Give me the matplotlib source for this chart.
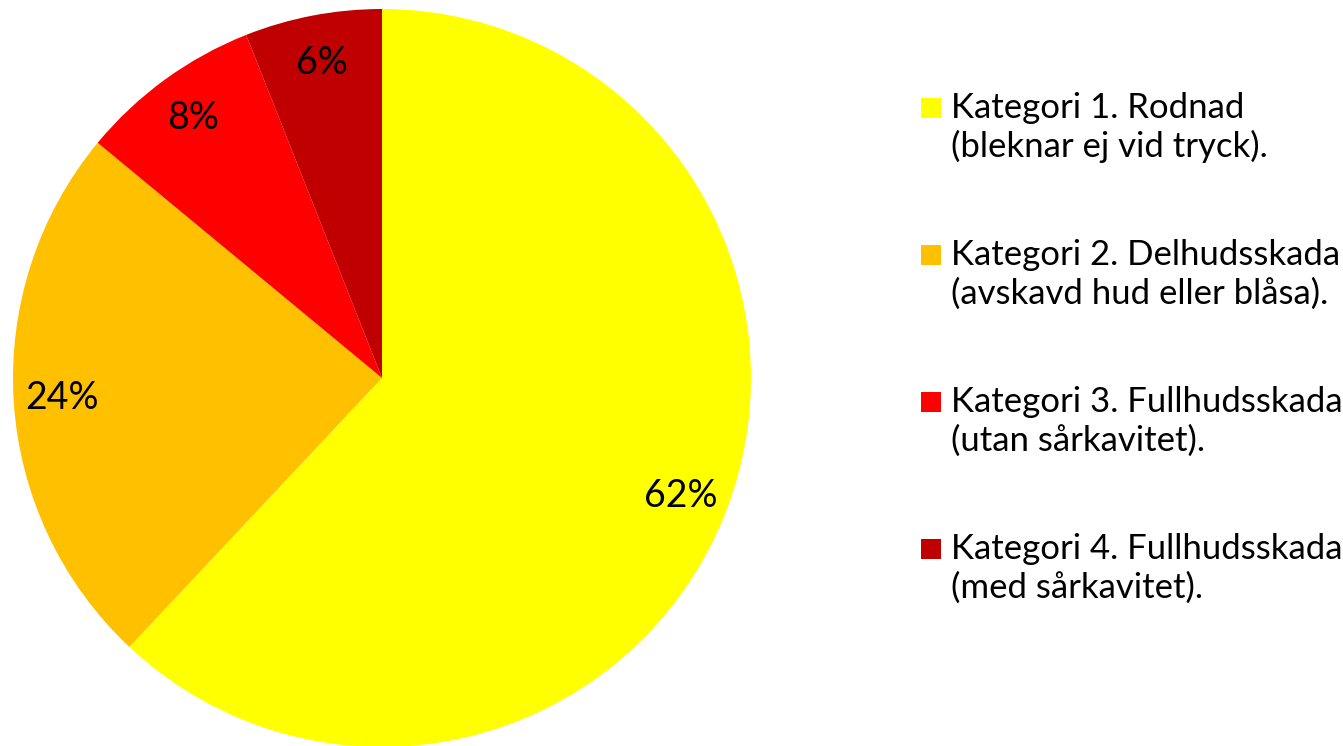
import matplotlib
matplotlib.use("Agg")
import matplotlib.pyplot as plt
from matplotlib.patches import Rectangle

categories = [
    "Kategori 1. Rodnad\n(bleknar ej vid tryck).",
    "Kategori 2. Delhudsskada\n(avskavd hud eller blåsa).",
    "Kategori 3. Fullhudsskada\n(utan sårkavitet).",
    "Kategori 4. Fullhudsskada\n(med sårkavitet).",
]
values = [62, 24, 8, 6]
colors = ["#FFFF00", "#FFC000", "#FF0000", "#C00000"]

W, H = 1343, 746
fig = plt.figure(figsize=(W / 100, H / 100), dpi=100)
cx, cy, r = 382, 378, 369
ax = fig.add_axes([(cx - r) / W, (H - cy - r) / H, 2 * r / W, 2 * r / H])
wedges, texts, autotexts = ax.pie(
    values, colors=colors, startangle=90, counterclock=False,
    autopct="%1.0f%%", pctdistance=0.87,
    textprops=dict(fontsize=27, family="Lato", color="black"),
)
ax.set_xlim(-1, 1)
ax.set_ylim(-1, 1)
ax.set_aspect("equal")
ax.axis("off")

# manual legend
sq = 20
x_sq = 921
base_first = 118
line_gap = 39
step = 147
for i, (lab, col) in enumerate(zip(categories, colors)):
    yb = base_first + i * step
    fig.patches.append(Rectangle((x_sq / W, (H - yb) / H), sq / W, sq / H,
                                 transform=fig.transFigure, facecolor=col, edgecolor="none"))
    for j, line in enumerate(lab.split("\n")):
        fig.text(951 / W, (H - yb - j * line_gap) / H, line, ha="left", va="baseline",
                 fontsize=25, family="Lato", color="black")

fig.savefig("out.png", dpi=100)
